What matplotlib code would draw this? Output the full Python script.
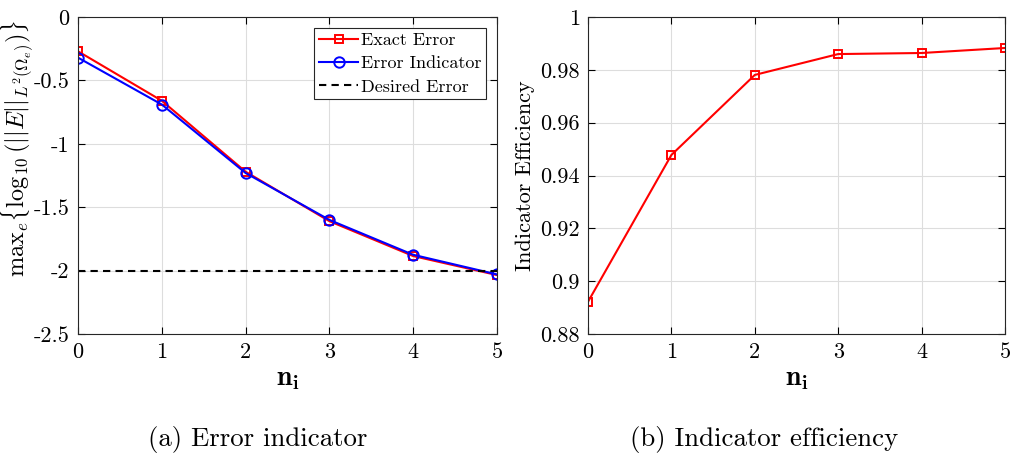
import matplotlib
matplotlib.use("Agg")
import matplotlib.pyplot as plt

plt.rcParams["font.family"] = ["cmr10", "DejaVu Serif"]
plt.rcParams["mathtext.fontset"] = "cm"
plt.rcParams["axes.unicode_minus"] = False
plt.rcParams["axes.formatter.use_mathtext"] = True
plt.rcParams["font.size"] = 16

# Data
ni = [0, 1, 2, 3, 4, 5]
exact_error = [-0.27, -0.66, -1.22, -1.61, -1.885, -2.035]
error_indicator = [-0.32, -0.69, -1.23, -1.60, -1.875, -2.03]
desired_error = -2.0
efficiency = [0.8922, 0.9478, 0.9781, 0.9860, 0.9864, 0.9883]

left_yticks = [-2.5, -2, -1.5, -1, -0.5, 0]
right_yticks = [0.88, 0.9, 0.92, 0.94, 0.96, 0.98, 1.0]

fig = plt.figure(figsize=(10.11, 4.58), dpi=100)
ax1 = fig.add_axes([0.0772, 0.2707, 0.4144, 0.692])
ax2 = fig.add_axes([0.5816, 0.2707, 0.4125, 0.692])


def style(ax):
    ax.grid(True, color="#dddddd", linewidth=0.8)
    ax.set_axisbelow(True)
    ax.tick_params(direction="in", top=True, right=True, length=5, width=0.8, pad=6)
    for s in ax.spines.values():
        s.set_linewidth(0.8)
        s.set_color("#262626")
    ax.set_xlim(0, 5)
    ax.set_xticks(ni, [str(v) for v in ni])
    ax.set_xlabel(r"$\mathbf{n}_\mathbf{i}$", fontsize=20, labelpad=3)


# (a) Error indicator
ax1.plot(ni, exact_error, color="red", marker="s", markersize=6, markerfacecolor="none",
         markeredgewidth=1.4, linewidth=1.5, label="Exact Error")
ax1.plot(ni, error_indicator, color="blue", marker="o", markersize=7.5, markerfacecolor="none",
         markeredgewidth=1.4, linewidth=1.5, label="Error Indicator")
ax1.axhline(desired_error, color="black", linestyle="--", linewidth=1.5, dashes=(3.5, 2.5),
            label="Desired Error")
style(ax1)
ax1.set_ylim(-2.5, 0)
ax1.set_yticks(left_yticks, ["%g" % v for v in left_yticks])
ax1.set_ylabel(r"$\mathrm{max}_e\{\log_{10}(||E||_{L^2(\Omega_e)})\}$", fontsize=17.5)
ax1.yaxis.set_label_coords(-0.10, 0.585)
leg = ax1.legend(loc="upper right", fancybox=False, edgecolor="#262626", framealpha=1,
                 fontsize=13, handlelength=2.2, handletextpad=0.15, borderpad=0.25,
                 labelspacing=0.42, borderaxespad=0.6)
leg.get_frame().set_linewidth(0.8)

# (b) Indicator efficiency
ax2.plot(ni, efficiency, color="red", marker="s", markersize=6, markerfacecolor="none",
         markeredgewidth=1.4, linewidth=1.5)
style(ax2)
ax2.set_ylim(0.88, 1.0)
ax2.set_yticks(right_yticks, ["%g" % v for v in right_yticks])
ax2.set_ylabel("Indicator Efficiency", fontsize=16)
ax2.yaxis.set_label_coords(-0.127, 0.5)

fig.text(0.255, 0.04, "(a) Error indicator", ha="center", va="center", fontsize=19.3)
fig.text(0.756, 0.04, "(b) Indicator efficiency", ha="center", va="center", fontsize=19.3)

fig.savefig("out.png", dpi=100)
